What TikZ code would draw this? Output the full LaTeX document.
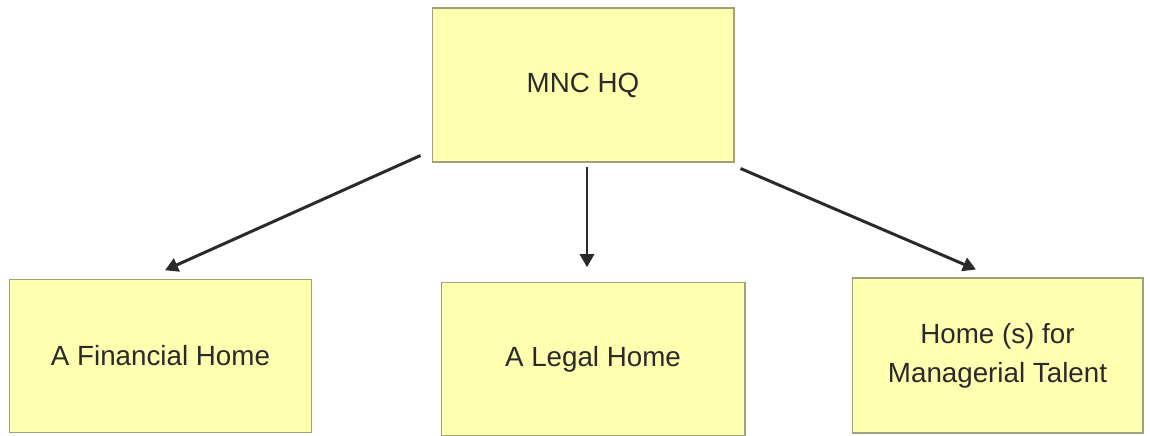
\documentclass[tikz,border=0pt]{standalone}
\usepackage{fontspec}
\setmainfont{Liberation Sans}
\usetikzlibrary{arrows.meta}
\definecolor{boxfill}{HTML}{FFFFB0}
\definecolor{boxline}{HTML}{A0A07C}
\definecolor{ink}{HTML}{2A2A2A}

\begin{document}
\begin{tikzpicture}[x = 0.02cm, y = -0.02cm,
  box/.style = {draw = boxline, fill = boxfill, line width = 0.6pt, inner sep = 0pt,
    minimum height = 3.05cm, align = center, text = ink,
    font = \fontsize{15.8}{22}\selectfont},
  arr/.style = {draw = ink, line width = 1.7pt, -{Triangle[length = 2.6mm, width = 2.8mm]}}]
\useasboundingbox (0,0) rectangle (1150,436);
\node[box, minimum width = 6.04cm, minimum height = 3.08cm] (hq) at (583,85) {MNC HQ};
\node[box, minimum width = 6.06cm] (fin) at (160.5,356) {A Financial Home};
\node[box, minimum width = 6.08cm] (legal) at (593,359) {A Legal Home};
\node[box, minimum width = 5.82cm, minimum height = 3.1cm] (talent) at (997.5,355.5) {Home (s) for\\Managerial Talent};
\draw[arr] ([shift = {(-11,-7)}]hq.south west) -- ([shift = {(4.5,-9)}]fin.north);
\draw[arr] ([shift = {(4,4)}]hq.south) -- ([shift = {(-6,-15)}]legal.north);
\draw[arr] ([shift = {(6,6)}]hq.south east) -- ([shift = {(-21.5,-8)}]talent.north);
\end{tikzpicture}
\end{document}
